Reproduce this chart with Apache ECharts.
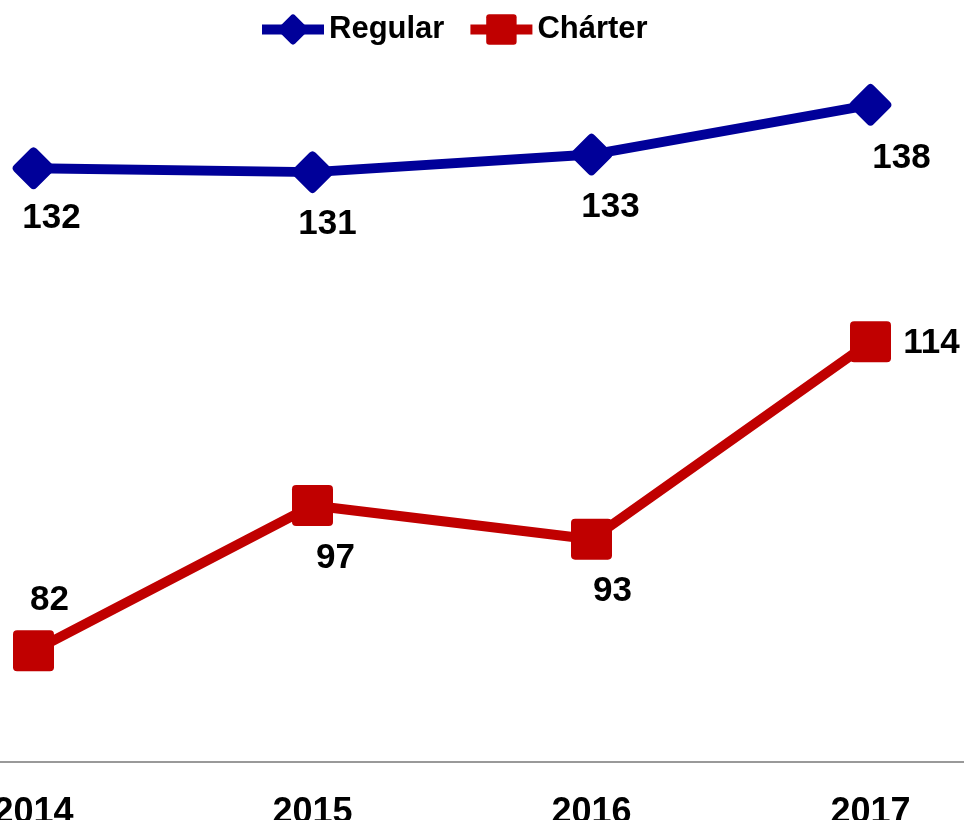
<!DOCTYPE html>
<html>
<head>
<meta charset="utf-8">
<script src="https://cdn.jsdelivr.net/npm/echarts@6/dist/echarts.min.js"></script>
<style>
  html, body { margin: 0; padding: 0; background: #fff; }
  #main { width: 964px; height: 820px; }
</style>
</head>
<body>
<div id="main"></div>
<script>
// 数据
var years = ['2014', '2015', '2016', '2017'];
var regular = [131.5, 131.1, 132.9, 138.0];
var charter = [82.0, 96.9, 93.45, 113.7];

// 标签偏移 (相对于点的中心)
var regularLabelOffset = [[18, 50], [15, 52], [19, 53], [31, 53]];
var charterLabelOffset = [[16, -51], [23, 53], [21, 52], [61, 2]];

var font = 'Arial, "Liberation Sans", sans-serif';
var diamondPath = 'path://M8.6,1.4Q10,0 11.4,1.4L18.6,8.6Q20,10 18.6,11.4L11.4,18.6Q10,20 8.6,18.6L1.4,11.4Q0,10 1.4,8.6Z';
var squarePath = 'path://M2,0H18Q20,0 20,2V18Q20,20 18,20H2Q0,20 0,18V2Q0,0 2,0Z';

function withLabels(values, offsets) {
    return values.map(function (v, i) {
        return {
            value: v,
            label: { offset: offsets[i] }
        };
    });
}

var myChart = echarts.init(document.getElementById('main'));

var option = {
    animation: false,
    legend: {
        left: 252,
        top: 9,
        itemWidth: 62,
        itemHeight: 38,
        itemGap: 21,
        lineStyle: { width: 10 },
        textStyle: {
            fontFamily: font,
            fontSize: 31,
            fontWeight: 'bold',
            color: '#000'
        },
        data: ['Regular', 'Chárter']
    },
    grid: {
        left: -106,
        right: -46,
        top: 60,
        bottom: 58,
        containLabel: false,
        outerBoundsMode: 'none'
    },
    xAxis: {
        type: 'category',
        data: years,
        boundaryGap: true,
        axisLine: { lineStyle: { color: '#999', width: 2 } },
        axisTick: { show: false },
        axisLabel: {
            margin: 33,
            fontFamily: font,
            fontSize: 36,
            fontWeight: 'bold',
            color: '#000'
        }
    },
    yAxis: {
        type: 'value',
        min: 70.6,
        max: 142.6,
        show: false,
        splitLine: { show: false }
    },
    series: [{
        name: 'Regular',
        type: 'line',
        data: withLabels(regular, regularLabelOffset),
        symbol: diamondPath,
        symbolSize: 42,
        lineStyle: { color: '#000099', width: 10 },
        itemStyle: { color: '#000099' },
        label: {
            show: true,
            position: 'inside',
            formatter: function (p) { return Math.round(p.value); },
            fontFamily: font,
            fontSize: 35,
            fontWeight: 'bold',
            color: '#000'
        }
    }, {
        name: 'Chárter',
        type: 'line',
        data: withLabels(charter, charterLabelOffset),
        symbol: squarePath,
        symbolSize: 41,
        lineStyle: { color: '#C00000', width: 10 },
        itemStyle: { color: '#C00000' },
        label: {
            show: true,
            position: 'inside',
            formatter: function (p) { return Math.round(p.value); },
            fontFamily: font,
            fontSize: 35,
            fontWeight: 'bold',
            color: '#000'
        }
    }]
};

myChart.setOption(option);
</script>
</body>
</html>
